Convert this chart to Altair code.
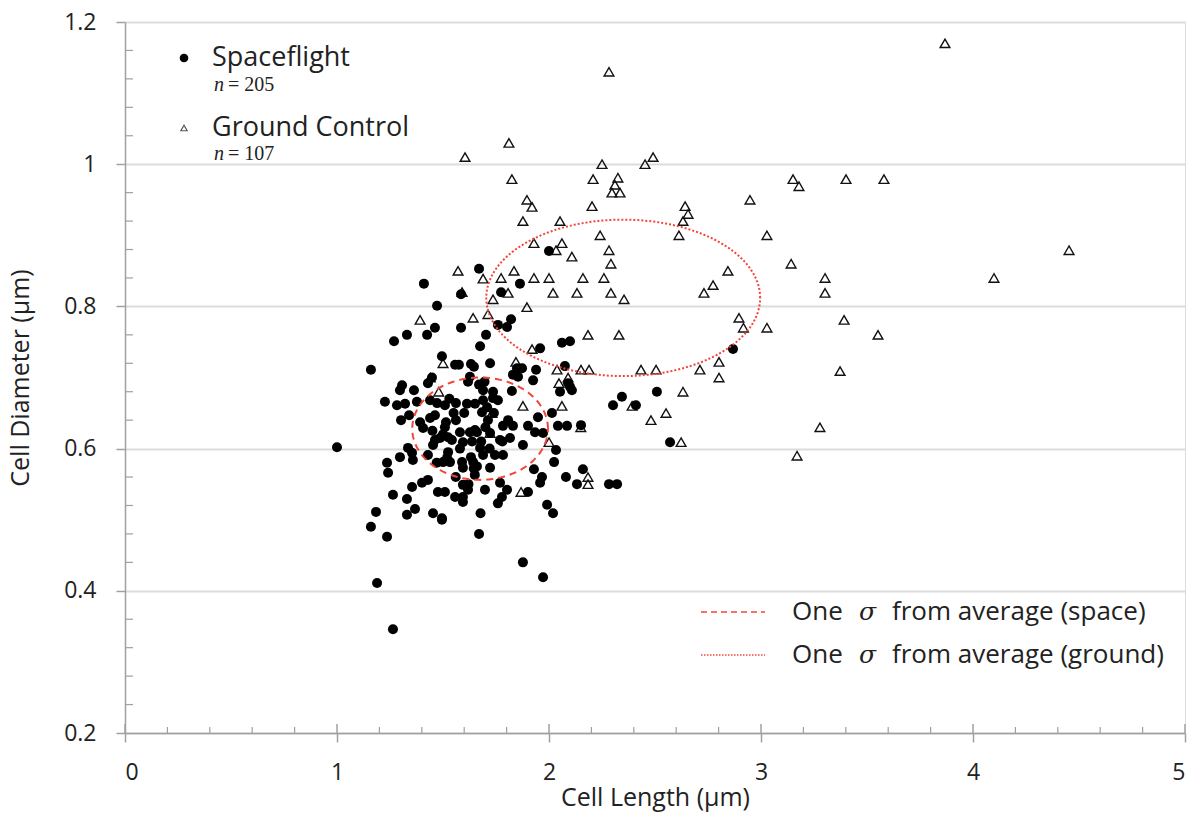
import altair as alt
import pandas as pd
import numpy as np

# ---------------- data ----------------
space_x = [1.410, 1.670, 1.585, 1.472, 1.462, 1.585, 1.330, 1.269, 1.425, 1.160,
           1.675, 1.495, 1.557, 1.575, 1.632, 1.646, 1.448, 1.429, 1.307, 1.297,
           1.363, 1.618, 1.670, 1.226, 2.000, 1.863, 1.774, 1.821, 1.802, 1.759,
           1.703, 2.061, 2.099, 1.958, 1.722, 1.849, 1.873, 1.830, 1.854, 1.939,
           2.075, 2.090, 2.099, 2.052, 1.925, 1.696, 1.627, 1.689, 1.736, 1.825,
           2.344, 1.000, 1.283, 1.321, 1.302, 1.340, 1.377, 1.392, 1.406, 1.439,
           1.462, 1.439, 1.472, 1.509, 1.561, 1.613, 1.651, 1.514, 1.509, 1.561,
           1.580, 1.627, 1.660, 1.462, 1.453, 1.486, 1.524, 1.542, 1.594, 1.637,
           1.335, 1.354, 1.297, 1.358, 1.429, 1.524, 1.519, 1.500, 1.533, 1.590,
           1.594, 1.632, 1.642, 1.645, 1.650, 1.236, 1.241, 1.429, 1.401, 1.354,
           1.476, 1.509, 1.557, 1.594, 1.594, 1.618, 1.594, 1.264, 1.330, 1.368,
           1.330, 1.453, 1.495, 1.184, 1.160, 1.236, 1.677, 1.670, 1.689, 1.708,
           1.736, 1.759, 1.684, 1.712, 1.651, 1.807, 1.783, 1.830, 1.901, 1.948,
           2.014, 2.302, 2.042, 2.085, 2.151, 1.934, 1.972, 1.769, 1.816, 1.722,
           1.877, 1.675, 1.689, 1.745, 1.783, 1.722, 2.033, 2.024, 1.929, 1.967,
           1.958, 2.080, 2.132, 2.160, 2.283, 2.321, 1.769, 1.802, 1.778, 1.759,
           1.698, 1.901, 1.991, 2.019, 1.264, 1.189, 1.877, 1.972, 1.495, 2.868,
           2.509, 2.410, 2.571, 2.108, 1.550, 1.600, 1.580, 1.500, 1.680, 1.700,
           1.470, 1.560, 1.620, 1.720, 1.740, 1.530, 1.660, 1.450, 1.780]
space_y = [0.832, 0.853, 0.817, 0.801, 0.770, 0.770, 0.760, 0.751, 0.760, 0.711,
           0.744, 0.730, 0.718, 0.718, 0.719, 0.715, 0.700, 0.692, 0.689, 0.682,
           0.682, 0.694, 0.690, 0.666, 0.878, 0.832, 0.820, 0.782, 0.771, 0.774,
           0.760, 0.749, 0.751, 0.741, 0.720, 0.713, 0.713, 0.704, 0.701, 0.711,
           0.716, 0.692, 0.687, 0.680, 0.696, 0.694, 0.701, 0.682, 0.680, 0.681,
           0.673, 0.602, 0.661, 0.663, 0.640, 0.647, 0.666, 0.637, 0.629, 0.643,
           0.647, 0.668, 0.664, 0.661, 0.664, 0.663, 0.663, 0.637, 0.630, 0.640,
           0.623, 0.623, 0.623, 0.612, 0.605, 0.615, 0.616, 0.612, 0.609, 0.610,
           0.601, 0.594, 0.588, 0.584, 0.591, 0.595, 0.587, 0.581, 0.581, 0.581,
           0.573, 0.588, 0.581, 0.572, 0.563, 0.580, 0.566, 0.556, 0.552, 0.546,
           0.539, 0.539, 0.532, 0.532, 0.525, 0.542, 0.549, 0.535, 0.529, 0.515,
           0.507, 0.509, 0.502, 0.511, 0.490, 0.476, 0.509, 0.480, 0.668, 0.658,
           0.671, 0.668, 0.651, 0.640, 0.626, 0.640, 0.632, 0.632, 0.632, 0.644,
           0.650, 0.661, 0.632, 0.632, 0.633, 0.623, 0.622, 0.612, 0.615, 0.622,
           0.605, 0.601, 0.591, 0.591, 0.591, 0.573, 0.598, 0.581, 0.571, 0.560,
           0.552, 0.560, 0.550, 0.571, 0.550, 0.550, 0.552, 0.542, 0.532, 0.523,
           0.542, 0.539, 0.521, 0.509, 0.346, 0.411, 0.440, 0.419, 0.500, 0.740,
           0.680, 0.661, 0.609, 0.682, 0.650, 0.650, 0.600, 0.620, 0.610, 0.630,
           0.580, 0.560, 0.550, 0.600, 0.650, 0.670, 0.575, 0.625, 0.610]

ground_x = [3.868, 2.283, 1.604, 1.811, 2.491, 2.453, 2.250, 1.825, 2.208, 2.325,
            2.311, 2.297, 2.335, 1.896, 1.920, 1.877, 2.052, 2.203, 2.241, 2.283,
            2.292, 2.642, 2.656, 2.632, 2.613, 2.948, 3.028, 3.151, 3.179, 3.142,
            1.929, 2.061, 2.033, 2.108, 1.571, 1.689, 1.774, 1.835, 1.929, 2.000,
            2.160, 2.259, 2.844, 2.774, 2.731, 1.807, 2.019, 2.132, 2.292, 2.354,
            1.736, 1.896, 1.712, 1.642, 2.896, 3.401, 3.580, 4.453, 3.302, 3.302,
            4.099, 2.917, 3.028, 3.392, 3.552, 3.373, 3.278, 3.170, 2.184, 2.330,
            2.802, 2.802, 2.038, 2.151, 2.189, 2.434, 2.505, 2.712, 2.047, 2.090,
            2.632, 2.061, 2.392, 2.552, 2.481, 2.000, 2.623, 2.184, 2.184, 1.920,
            1.844, 1.392, 1.500, 1.590, 1.480, 1.440, 1.877, 1.731, 1.868, 1.722,
            2.150]
ground_y = [1.170, 1.130, 1.010, 1.030, 1.010, 1.000, 1.000, 0.979, 0.979, 0.981,
            0.971, 0.960, 0.960, 0.950, 0.940, 0.920, 0.920, 0.941, 0.900, 0.879,
            0.860, 0.941, 0.930, 0.920, 0.900, 0.950, 0.900, 0.979, 0.969, 0.860,
            0.889, 0.889, 0.879, 0.870, 0.850, 0.839, 0.840, 0.850, 0.840, 0.840,
            0.840, 0.840, 0.850, 0.830, 0.819, 0.819, 0.819, 0.819, 0.819, 0.810,
            0.810, 0.799, 0.789, 0.784, 0.784, 0.979, 0.979, 0.879, 0.840, 0.819,
            0.840, 0.770, 0.770, 0.781, 0.760, 0.709, 0.630, 0.590, 0.760, 0.760,
            0.722, 0.700, 0.711, 0.711, 0.711, 0.711, 0.711, 0.711, 0.692, 0.700,
            0.680, 0.660, 0.660, 0.650, 0.640, 0.609, 0.609, 0.560, 0.550, 0.740,
            0.722, 0.781, 0.720, 0.820, 0.680, 0.700, 0.660, 0.650, 0.539, 0.622,
            0.630]

# one-sigma ellipses: center x, center y, half-width, half-height
ellipse_names = ["space", "ground"]
ellipse_cx = [1.675, 2.350]
ellipse_cy = [0.628, 0.812]
ellipse_rx = [0.320, 0.646]
ellipse_ry = [0.072, 0.110]

x_ticks = [0, 1, 2, 3, 4, 5]
y_ticks = [0.2, 0.4, 0.6, 0.8, 1.0, 1.2]
x_minor = [round(i * 0.2, 2) for i in range(26) if i % 5 != 0]
y_minor = [round(0.2 + i * 0.04, 2) for i in range(26) if i % 5 != 0]

FONT = "Open Sans"
RED = "#f2453a"
GREY = "#a0a0a0"
INK = "#222222"
W, H = 1060, 711

# ---------------- tables ----------------
space_df = pd.DataFrame({"x": space_x, "y": space_y})
ground_df = pd.DataFrame({"x": ground_x, "y": ground_y})

t = np.linspace(0, 2 * np.pi, 241)
rows = []
for n, cx, cy, rx, ry in zip(ellipse_names, ellipse_cx, ellipse_cy, ellipse_rx, ellipse_ry):
    for i, a in enumerate(t):
        rows.append({"which": n, "i": i, "x": cx + rx * np.cos(a), "y": cy + ry * np.sin(a)})
ell_df = pd.DataFrame(rows)

xs = alt.Scale(domain=[0, 5], nice=False)
ys = alt.Scale(domain=[0.2, 1.2], nice=False)

X = alt.X("x:Q", scale=xs, title="Cell Length (µm)",
          axis=alt.Axis(values=x_ticks, grid=False, labelPadding=19, titlePadding=1))
Y = alt.Y("y:Q", scale=ys, title="Cell Diameter (µm)",
          axis=alt.Axis(values=y_ticks, format="~g", grid=True, labelPadding=20,
                        titlePadding=30))

base = alt.Chart(ground_df).mark_point(
    shape="triangle-up", size=95, filled=False, stroke="#111", strokeWidth=1.4,
    opacity=1
).encode(x=X, y=Y)

circles = alt.Chart(space_df).mark_circle(size=100, color="black", opacity=1).encode(x=X, y=Y)

ell_space = alt.Chart(ell_df[ell_df.which == "space"]).mark_line(
    color=RED, strokeWidth=2, strokeDash=[7, 5]).encode(x=X, y=Y, order="i:Q")
ell_ground = alt.Chart(ell_df[ell_df.which == "ground"]).mark_line(
    color=RED, strokeWidth=2, strokeDash=[2, 2]).encode(x=X, y=Y, order="i:Q")

# inward tick marks
xmaj_in = alt.Chart(pd.DataFrame({"x": x_ticks})).mark_rule(color=GREY, strokeWidth=1.5).encode(
    x=X, y=alt.value(H), y2=alt.value(H - 9))
xmin_in = alt.Chart(pd.DataFrame({"x": x_minor})).mark_rule(color=GREY, strokeWidth=1.2).encode(
    x=X, y=alt.value(H), y2=alt.value(H - 6))
ymin_in = alt.Chart(pd.DataFrame({"y": y_minor})).mark_rule(color=GREY, strokeWidth=1.2).encode(
    y=Y, x=alt.value(0), x2=alt.value(8))

# legends (annotations, placed in pixels)
one = pd.DataFrame({"a": [0]})
leg = []
leg.append(alt.Chart(one).mark_circle(size=75, color="black", opacity=1).encode(
    x=alt.value(59), y=alt.value(36)))
leg.append(alt.Chart(one).mark_point(shape="triangle-up", size=40, filled=False,
                                     stroke="#111", strokeWidth=1.2).encode(
    x=alt.value(59), y=alt.value(106)))
for txt, yy in [("Spaceflight", 36), ("Ground Control", 106)]:
    leg.append(alt.Chart(one).mark_text(text=txt, font=FONT, fontSize=27, color=INK,
                                        align="left", baseline="middle").encode(
        x=alt.value(87), y=alt.value(yy)))
for txt, yy in [("= 205", 63), ("= 107", 132)]:
    leg.append(alt.Chart(one).mark_text(text="n", font="Liberation Serif", fontSize=20,
                                        color=INK, align="left", baseline="middle",
                                        fontStyle="italic").encode(
        x=alt.value(89), y=alt.value(yy)))
    leg.append(alt.Chart(one).mark_text(text=txt, font="Liberation Serif", fontSize=20,
                                        color=INK, align="left", baseline="middle").encode(
        x=alt.value(103), y=alt.value(yy)))

line_df = pd.DataFrame({"k": ["a", "b"], "px": [576, 640]})
leg.append(alt.Chart(line_df).mark_line(color=RED, strokeWidth=1.5, strokeDash=[6, 4]).encode(
    x=alt.X("px:Q", scale=None), y=alt.value(590)))
leg.append(alt.Chart(line_df).mark_line(color=RED, strokeWidth=1.5, strokeDash=[1.5, 1.5]).encode(
    x=alt.X("px:Q", scale=None), y=alt.value(633)))
for kind, yy in [("(space)", 590), ("(ground)", 633)]:
    leg.append(alt.Chart(one).mark_text(text="One", font=FONT, fontSize=26, color=INK,
                                        align="left", baseline="middle").encode(
        x=alt.value(667), y=alt.value(yy)))
    leg.append(alt.Chart(one).mark_text(text="σ", font="DejaVu Serif", fontSize=25, color=INK,
                                        align="left", baseline="middle", fontStyle="italic").encode(
        x=alt.value(734), y=alt.value(yy)))
    leg.append(alt.Chart(one).mark_text(text="from average " + kind, font=FONT, fontSize=26,
                                        color=INK, align="left", baseline="middle").encode(
        x=alt.value(767), y=alt.value(yy)))

chart = alt.layer(base, xmaj_in, xmin_in, ymin_in, circles, ell_space, ell_ground, *leg).properties(
    width=W, height=H,
    autosize=alt.AutoSizeParams(type="none"),
    padding={"left": 125, "top": 22, "right": 8, "bottom": 87},
).configure_view(stroke=None).configure(background="white").configure_axis(
    domainColor=GREY, domainWidth=1.5, tickColor=GREY, tickWidth=1.5, tickSize=9,
    labelFont=FONT, labelFontSize=23, labelColor=INK,
    titleFont=FONT, titleFontSize=25, titleFontWeight="normal", titleColor=INK,
    gridColor="#dcdcdc", gridWidth=2
)

chart.save("out.html", embed_options={"renderer": "svg", "actions": False})
